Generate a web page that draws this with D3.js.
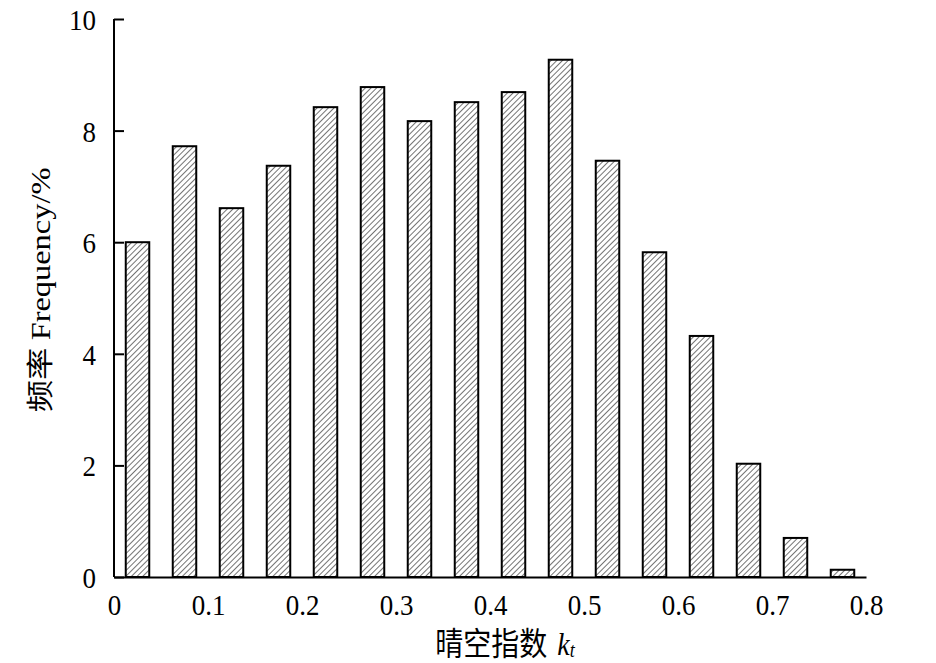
<!DOCTYPE html>
<html><head><meta charset="utf-8">
<script src="https://cdn.jsdelivr.net/npm/d3@7"></script>
<style>body{margin:0;background:#fff}svg{display:block}</style>
</head><body>
<svg id="c" width="936" height="663"></svg>
<script>
const binStarts = [0,0.05,0.1,0.15,0.2,0.25,0.3,0.35,0.4,0.45,0.5,0.55,0.6,0.65,0.7,0.75];
const frequency = [6.0,7.72,6.61,7.37,8.42,8.78,8.17,8.51,8.69,9.27,7.46,5.82,4.32,2.03,0.70,0.13];
const xTicks = [0,0.1,0.2,0.3,0.4,0.5,0.6,0.7,0.8];
const yTicks = [0,2,4,6,8,10];

const svg = d3.select("#c");
const font = "'Liberation Serif','Times New Roman',serif";
const fs = 27;
const sy = 1.12;
const x = d3.scaleLinear().domain([0,0.8]).range([114,866]);
const y = d3.scaleLinear().domain([0,10]).range([577,19]);

const defs = svg.append("defs");
const pat = defs.append("pattern").attr("id","hatch").attr("patternUnits","userSpaceOnUse")
  .attr("width",4).attr("height",4).attr("patternTransform","rotate(45)");
pat.append("rect").attr("width",4).attr("height",4).attr("fill","#fff");
pat.append("line").attr("x1",0).attr("y1",0).attr("x2",0).attr("y2",4).attr("stroke","#000").attr("stroke-width",1.1);

const bw = 0.05*0.5;
svg.append("g").selectAll("rect").data(frequency).join("rect")
  .attr("x",(d,i)=>x(binStarts[i]+0.025-bw/2))
  .attr("width",(d,i)=>x(binStarts[i]+0.025+bw/2)-x(binStarts[i]+0.025-bw/2))
  .attr("y",d=>y(d)).attr("height",d=>y(0)-y(d))
  .attr("fill","url(#hatch)").attr("stroke","#000").attr("stroke-width",2);

// y axis
const ya = svg.append("g").attr("transform","translate(114,0)")
  .call(d3.axisRight(y).tickValues(yTicks).tickSize(10).tickFormat(d3.format("d")));
ya.select(".domain").attr("d",`M0,${y(10)}H0V${y(0)}`).attr("stroke-width",2);
ya.selectAll(".tick line").attr("stroke-width",2);
ya.selectAll(".tick text").attr("x",-18).attr("y",0).attr("text-anchor","end").attr("dy","0.35em")
  .attr("transform",`scale(1,${sy})`)
  .attr("font-family",font).attr("font-size",fs).attr("fill","#000");

// x axis
const xa = svg.append("g").attr("transform","translate(0,577)")
  .call(d3.axisBottom(x).tickValues(xTicks).tickSize(0).tickFormat(d=>d===0?"0":d3.format(".1f")(d)));
xa.select(".domain").attr("stroke-width",2);
xa.selectAll(".tick text").attr("y",38/sy).attr("dy",0)
  .attr("transform",`scale(1,${sy})`)
  .attr("font-family",font).attr("font-size",fs).attr("fill","#000");

// labels
const xl = svg.append("text").attr("transform",`translate(505,655) scale(1,${sy})`).attr("text-anchor","middle")
  .attr("font-family",font).attr("font-size",28).attr("fill","#000");
xl.append("tspan").attr("font-family","'Noto Sans CJK SC',sans-serif").text("晴空指数");
xl.append("tspan").attr("dx",10).attr("font-style","italic").text("k");
xl.append("tspan").attr("font-style","italic").attr("font-size",18).attr("dy",2).text("t");

const yl = svg.append("text").attr("transform","translate(50,290) scale(1,1.2) rotate(-90)").attr("text-anchor","middle")
  .attr("font-family",font).attr("font-size",fs).attr("fill","#000");
yl.append("tspan").attr("font-family","'Noto Sans CJK SC',sans-serif").text("频率 ");
yl.append("tspan").text("Frequency/%");
</script>
</body></html>
